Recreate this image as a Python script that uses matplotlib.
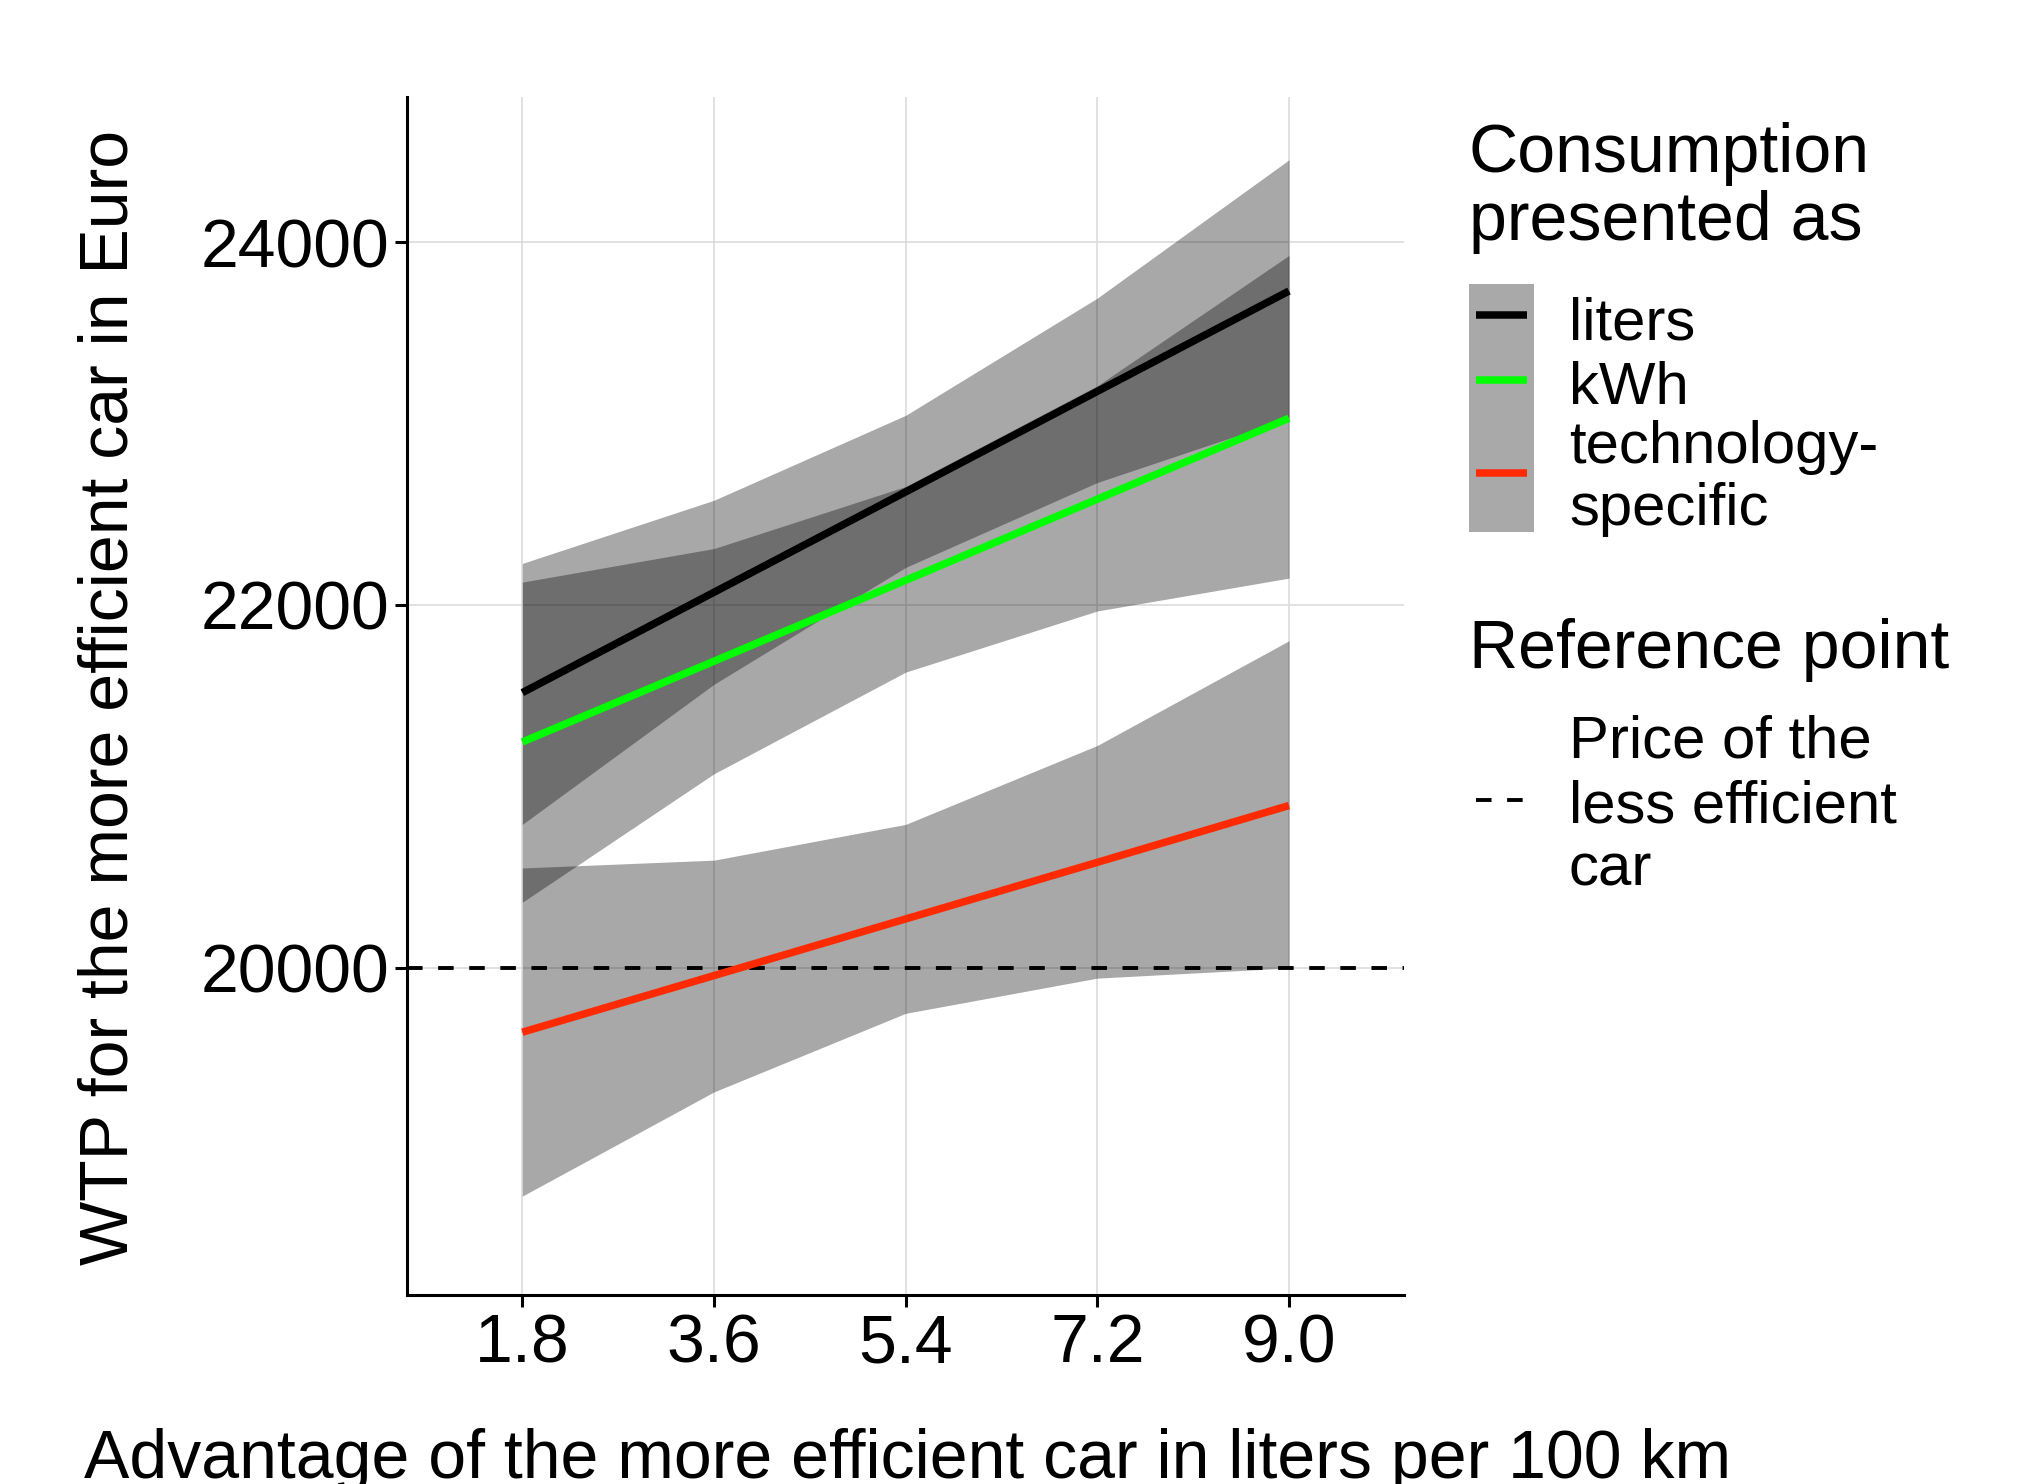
import matplotlib
matplotlib.use("Agg")
import matplotlib.pyplot as plt
from matplotlib.lines import Line2D
from matplotlib.patches import Rectangle

plt.rcParams['font.family'] = ['Liberation Sans', 'DejaVu Sans']

# ---- data ----
advantage = [1.8, 3.6, 5.4, 7.2, 9.0]
liters_fit = [21517, 22070, 22623, 23177, 23730]
liters_lo = [20791, 21563, 22207, 22675, 23029]
liters_hi = [22229, 22577, 23045, 23691, 24453]
kwh_fit = [21245, 21690, 22136, 22583, 23029]
kwh_lo = [20362, 21070, 21630, 21967, 22148]
kwh_hi = [22126, 22311, 22653, 23208, 23926]
tech_fit = [19646, 19958, 20270, 20582, 20895]
tech_lo = [18743, 19317, 19750, 19944, 20000]
tech_hi = [20551, 20594, 20791, 21226, 21803]
reference_price = 20000
x_ticks = [1.8, 3.6, 5.4, 7.2, 9.0]
x_ticklabels = ["1.8", "3.6", "5.4", "7.2", "9.0"]
y_ticks = [20000, 22000, 24000]
series_labels = ["liters", "kWh", "technology-\nspecific"]
series_colors = ["#000000", "#00FF00", "#FF2A00"]

W, H = 2033, 1484
DPI = 200
fig = plt.figure(figsize=(W / DPI, H / DPI), dpi=DPI)

def fx(x):
    return x / W

def fy(y):
    return 1 - y / H

ax = fig.add_axes([fx(407), fy(1295), fx(1404) - fx(407), fy(97) - fy(1295)])

FS = 24.5
FS_LAB = 21.6
LW = 2.7
band_kw = dict(color="black", alpha=0.34, linewidth=0)
for lo, hi in [(liters_lo, liters_hi), (kwh_lo, kwh_hi), (tech_lo, tech_hi)]:
    ax.fill_between(advantage, lo, hi, zorder=2, **band_kw)

ax.axhline(reference_price, color="black", linestyle=(0, (4, 4)), linewidth=1.4, zorder=3)

for fit, c in zip([liters_fit, kwh_fit, tech_fit], series_colors):
    ax.plot(advantage, fit, color=c, linewidth=LW, zorder=4, solid_capstyle="butt")

ax.set_xlim(0.717, 10.08)
ax.set_ylim(18198, 24799)
ax.set_xticks(x_ticks)
ax.set_xticklabels(x_ticklabels)
ax.set_yticks(y_ticks)
ax.grid(True, color="#DCDCDC", linewidth=0.6, zorder=0)
ax.set_axisbelow(True)
for s in ["top", "right"]:
    ax.spines[s].set_visible(False)
for s in ["left", "bottom"]:
    ax.spines[s].set_linewidth(1.1)
    ax.spines[s].set_color("black")
ax.tick_params(axis="both", direction="out", length=4.3, width=1.1, color="black",
               labelsize=FS, labelcolor="black", pad=2)

# axis titles
fig.text(fx(84), fy(1478), "Advantage of the more efficient car in liters per 100 km",
         fontsize=FS, ha="left", va="baseline")
fig.text(fx(110), fy(697), "WTP for the more efficient car in Euro",
         fontsize=FS, ha="center", va="center", rotation=90)

# legend (manual)
fig.text(fx(1469), fy(172), "Consumption", fontsize=FS, ha="left", va="baseline")
fig.text(fx(1469), fy(240), "presented as", fontsize=FS, ha="left", va="baseline")
fig.add_artist(Rectangle((fx(1469), fy(532)), fx(1534) - fx(1469), fy(284) - fy(532),
                         transform=fig.transFigure, facecolor="#A9A9A9", edgecolor="none"))
key_y = [315, 380, 473]
for yk, c in zip(key_y, series_colors):
    fig.add_artist(Line2D([fx(1476), fx(1527)], [fy(yk), fy(yk)], color=c, linewidth=LW,
                          transform=fig.transFigure, solid_capstyle="butt"))
fig.text(fx(1569), fy(340), series_labels[0], fontsize=FS_LAB, ha="left", va="baseline")
fig.text(fx(1569), fy(404), series_labels[1], fontsize=FS_LAB, ha="left", va="baseline")
tl = series_labels[2].split("\n")
fig.text(fx(1569), fy(463), tl[0], fontsize=FS_LAB, ha="left", va="baseline")
fig.text(fx(1569), fy(525), tl[1], fontsize=FS_LAB, ha="left", va="baseline")

fig.text(fx(1469), fy(668), "Reference point", fontsize=FS, ha="left", va="baseline")
fig.add_artist(Line2D([fx(1476), fx(1530)], [fy(800), fy(800)], color="black", linewidth=1.4,
                      linestyle=(0, (4, 4)), transform=fig.transFigure))
fig.text(fx(1569), fy(757), "Price of the", fontsize=FS_LAB, ha="left", va="baseline")
fig.text(fx(1569), fy(822), "less efficient", fontsize=FS_LAB, ha="left", va="baseline")
fig.text(fx(1569), fy(886), "car", fontsize=FS_LAB, ha="left", va="baseline")

fig.savefig("out.png", dpi=DPI, facecolor="white")
